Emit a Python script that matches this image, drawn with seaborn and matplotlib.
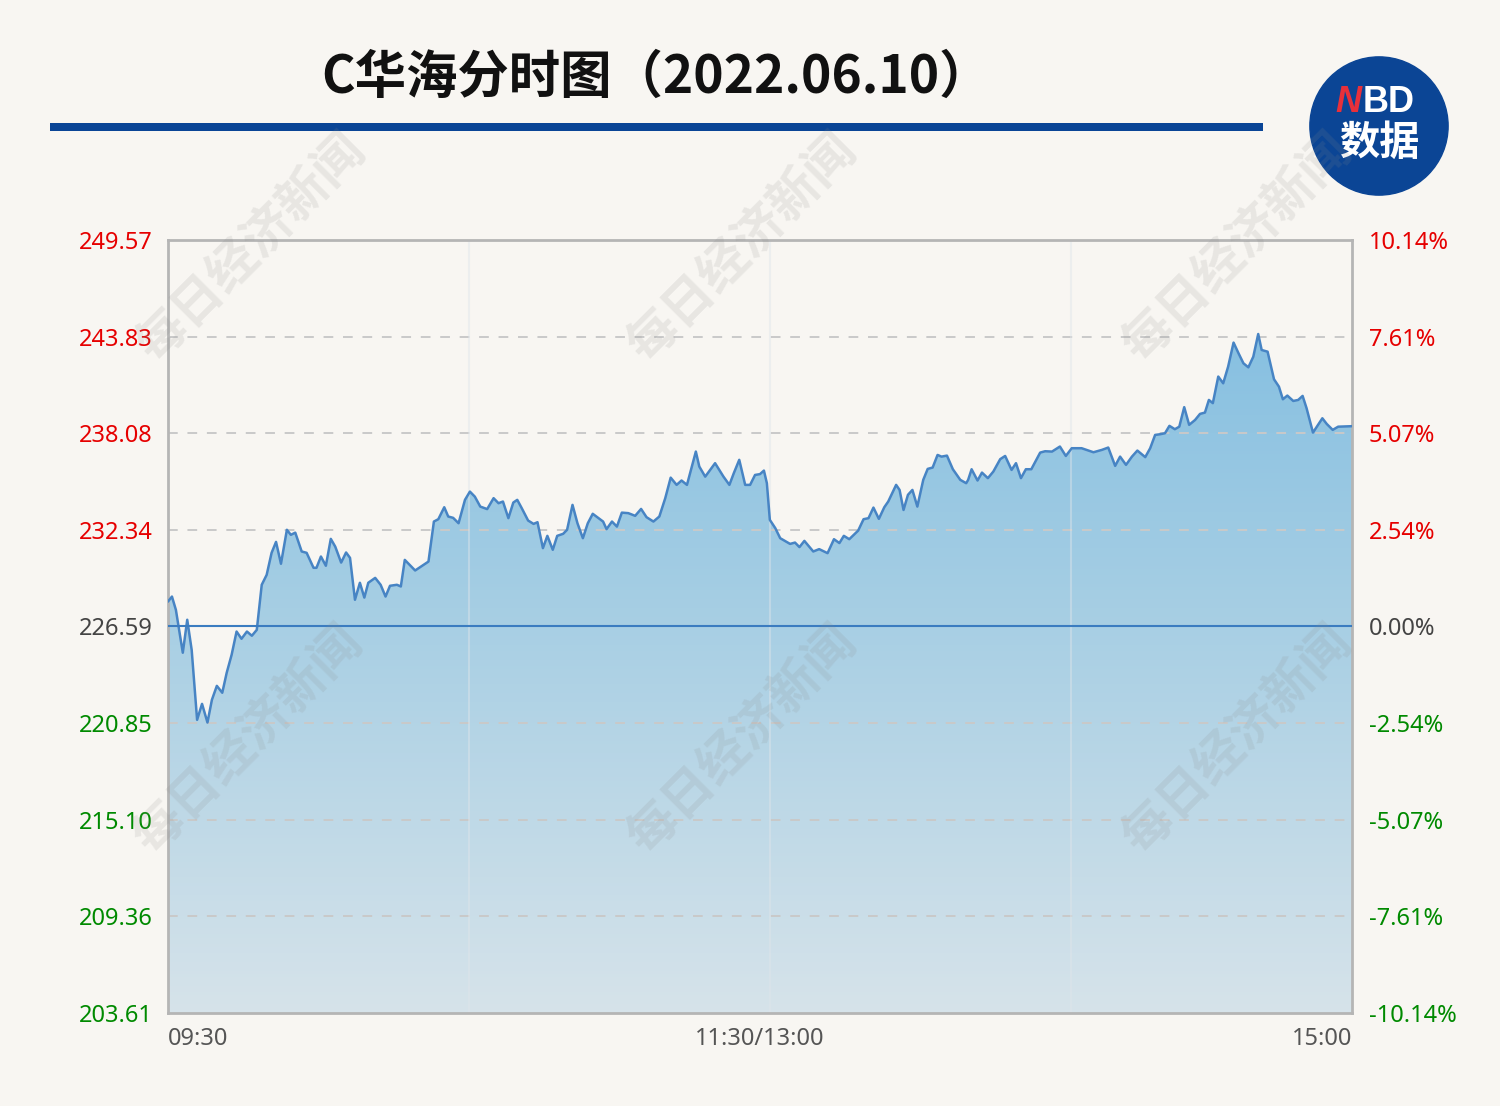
import numpy as np
import pandas as pd
import matplotlib
matplotlib.use("Agg")
import matplotlib.pyplot as plt
import seaborn as sns
from matplotlib.colors import LinearSegmentedColormap
from matplotlib.patches import Circle, Rectangle

# 分时数据: 交易分钟序号(0=09:30, 120=11:30/13:00, 240=15:00) 与价格
minutes = [
    0.0, 0.8, 1.6, 3.0, 3.9, 4.8, 5.9, 6.9, 8.0, 8.9,
    9.9, 11.0, 11.9, 12.9, 13.9, 14.9, 16.0, 17.0, 18.0, 19.0,
    20.0, 21.0, 21.9, 22.9, 24.1, 24.9, 25.8, 27.1, 28.1, 29.5,
    30.1, 31.0, 32.0, 33.0, 33.9, 35.1, 36.1, 36.9, 37.9, 38.9,
    39.8, 40.6, 42.0, 43.1, 44.1, 45.0, 46.4, 47.2, 48.0, 50.1,
    52.8, 53.9, 54.8, 56.0, 56.8, 57.8, 58.9, 60.2, 61.2, 62.2,
    63.3, 64.7, 66.0, 67.0, 67.9, 69.0, 70.0, 70.8, 71.7, 73.0,
    74.1, 74.9, 76.0, 76.9, 78.0, 78.9, 80.1, 80.9, 82.0, 83.0,
    84.1, 85.1, 86.1, 87.1, 88.2, 88.9, 90.0, 91.0, 92.0, 93.3,
    94.7, 95.9, 97.0, 98.4, 99.6, 100.8, 101.9, 103.1, 104.1, 105.2,
    106.2, 107.0, 107.7, 108.9, 110.9, 112.6, 113.8, 114.7, 115.8, 117.0,
    118.0, 119.0, 120.0, 120.8, 121.4, 122.0, 123.1, 124.1, 126.1, 127.1,
    128.0, 129.0, 130.8, 132.0, 133.7, 135.0, 136.1, 137.0, 138.1, 139.9,
    141.0, 142.0, 143.0, 144.1, 145.2, 146.0, 147.6, 148.3, 149.1, 150.0,
    150.9, 151.9, 153.1, 154.0, 155.0, 156.0, 156.8, 157.9, 159.1, 160.6,
    161.8, 162.2, 162.9, 164.1, 165.0, 166.2, 167.3, 168.7, 169.7, 171.0,
    171.9, 172.9, 173.9, 175.0, 176.8, 177.8, 179.2, 180.8, 182.0, 183.2,
    185.2, 187.6, 189.3, 190.6, 191.3, 192.0, 193.0, 194.2, 195.4, 196.5,
    198.1, 199.1, 200.1, 201.1, 202.1, 203.0, 204.1, 205.0, 206.0, 207.0,
    208.2, 209.2, 210.2, 211.0, 211.8, 212.9, 213.9, 214.9, 216.0, 217.0,
    218.0, 219.0, 220.0, 221.0, 221.7, 222.9, 224.2, 225.2, 226.0, 226.9,
    228.1, 229.1, 230.0, 230.8, 232.1, 233.0, 234.0, 234.9, 236.1, 237.2,
    240.0,
]
prices = [
    228.07, 228.37, 227.58, 225.03, 226.99, 225.20, 221.04, 221.99, 220.88, 222.23,
    223.06, 222.65, 223.84, 224.91, 226.29, 225.86, 226.29, 226.04, 226.39, 229.07,
    229.66, 230.97, 231.62, 230.32, 232.34, 232.04, 232.17, 231.05, 230.97, 230.08,
    230.08, 230.75, 230.20, 231.80, 231.34, 230.39, 230.99, 230.67, 228.18, 229.19,
    228.31, 229.19, 229.48, 229.07, 228.37, 229.01, 229.07, 228.97, 230.55, 229.92,
    230.45, 232.83, 232.97, 233.68, 233.13, 233.05, 232.73, 234.12, 234.61, 234.31,
    233.72, 233.57, 234.22, 233.92, 234.02, 233.03, 233.96, 234.12, 233.63, 232.89,
    232.69, 232.79, 231.25, 231.98, 231.15, 231.98, 232.10, 232.34, 233.82, 232.73,
    231.84, 232.73, 233.29, 233.07, 232.83, 232.38, 232.83, 232.53, 233.36, 233.33,
    233.17, 233.58, 233.09, 232.83, 233.13, 234.22, 235.44, 235.01, 235.27, 235.01,
    236.10, 236.99, 236.10, 235.50, 236.30, 235.50, 235.01, 235.71, 236.50, 235.01,
    235.01, 235.60, 235.65, 235.86, 235.11, 232.93, 232.44, 231.84, 231.50, 231.58,
    231.31, 231.68, 231.05, 231.19, 230.95, 231.78, 231.55, 231.98, 231.78, 232.29,
    232.97, 233.03, 233.66, 232.99, 233.68, 234.02, 235.01, 234.71, 233.52, 234.42,
    234.71, 233.72, 235.31, 235.96, 236.04, 236.79, 236.69, 236.75, 235.94, 235.31,
    235.11, 235.31, 235.94, 235.27, 235.74, 235.41, 235.80, 236.54, 236.73, 235.90,
    236.30, 235.41, 235.94, 235.94, 236.93, 237.01, 236.99, 237.29, 236.73, 237.19,
    237.19, 236.95, 237.09, 237.23, 236.69, 236.14, 236.69, 236.20, 236.69, 237.05,
    236.66, 237.19, 237.98, 238.02, 238.08, 238.52, 238.32, 238.47, 239.63, 238.58,
    238.87, 239.23, 239.31, 240.06, 239.87, 241.45, 241.05, 242.04, 243.47, 242.84,
    242.24, 242.00, 242.63, 243.98, 243.03, 242.93, 241.29, 240.85, 240.10, 240.32,
    240.00, 240.06, 240.30, 239.57, 238.12, 238.52, 238.97, 238.63, 238.28, 238.47,
    238.50,
]

prev_close = 226.59
price_ticks = [203.61, 209.36, 215.10, 220.85, 226.59, 232.34, 238.08, 243.83, 249.57]
pct_labels = ["-10.14%", "-7.61%", "-5.07%", "-2.54%", "0.00%",
              "2.54%", "5.07%", "7.61%", "10.14%"]
time_ticks = [0, 120, 240]
time_labels = ["09:30", "11:30/13:00", "15:00"]
split_minutes = [61, 122, 183]

sns.set_theme(style="white")
plt.rcParams['font.family'] = ['Noto Sans', 'Noto Sans CJK SC', 'DejaVu Sans']

bg = "#f8f6f2"
fig = plt.figure(figsize=(15, 11.06), dpi=100, facecolor=bg)
ax = fig.add_axes([0.112, 0.0841, 0.7893, 0.6989])
ax.set_facecolor(bg)

df = pd.DataFrame({"minute": minutes, "price": prices})
ymin, ymax = price_ticks[0], price_ticks[-1]

# 渐变填充
fill = ax.fill_between(df["minute"], df["price"], ymin, color="none", lw=0)
grad = np.linspace(0, 1, 256).reshape(-1, 1)
cmap = LinearSegmentedColormap.from_list("g", ["#d6e3ea", "#a8cfe4", "#7cbbe0"])
im = ax.imshow(grad, extent=[0, 240, ymin, ymax], origin="lower",
               aspect="auto", cmap=cmap, zorder=1)
im.set_clip_path(fill.get_paths()[0], transform=ax.transData)

# 网格线
for t in price_ticks[1:-1]:
    if t != prev_close:
        ax.axhline(t, color="#c9c9c9", ls=(0, (5, 5)), lw=1.4, zorder=2)
for m in split_minutes:
    ax.axvline(m, color="#dfe5ea", lw=1.5, alpha=0.45, zorder=2)

sns.lineplot(data=df, x="minute", y="price", color="#4784c4", linewidth=1.8,
             ax=ax, zorder=4)
ax.axhline(prev_close, color="#3b7cc0", lw=1.5, zorder=5)

ax.set_xlim(0, 240)
ax.set_ylim(ymin, ymax)
ax.set_xlabel("")
ax.set_ylabel("")
for s in ax.spines.values():
    s.set_color("#b5b5b5")
    s.set_linewidth(2)

def tick_color(v):
    if v > prev_close:
        return "#e60000"
    if v < prev_close:
        return "#008a00"
    return "#444444"

ax.set_yticks(price_ticks)
ax.set_yticklabels([f"{v:.2f}" for v in price_ticks], fontsize=17)
for lab, v in zip(ax.get_yticklabels(), price_ticks):
    lab.set_color(tick_color(v))
ax.tick_params(axis="y", length=0, pad=11)

ax.set_xticks(time_ticks)
ax.set_xticklabels(time_labels, fontsize=17, color="#555555")
ax.tick_params(axis="x", length=0, pad=10)
xl = ax.get_xticklabels()
xl[0].set_ha("left")
xl[0].set_x(-0.6)
xl[-1].set_ha("right")

ax2 = ax.twinx()
ax2.set_ylim(ymin, ymax)
ax2.set_yticks(price_ticks)
ax2.set_yticklabels(pct_labels, fontsize=17)
for lab, v in zip(ax2.get_yticklabels(), price_ticks):
    lab.set_color(tick_color(v))
ax2.tick_params(axis="y", length=0, pad=12)
for s in ax2.spines.values():
    s.set_visible(False)
ax2.grid(False)

# 标题与蓝色横线
fig.text(0.437, 0.930, "C华海分时图（2022.06.10）", ha="center", va="center",
         fontsize=37, fontweight="bold", color="#111111",
         family=['Noto Sans CJK SC', 'DejaVu Sans'])
fig.add_artist(Rectangle((50 / 1500, 0.8816), 1213 / 1500, 8 / 1106,
                         transform=fig.transFigure, color="#0a4596", lw=0))

# NBD 标志
axl = fig.add_axes([(1379 - 72) / 1500, (1106 - 126 - 72) / 1106, 144 / 1500, 144 / 1106])
axl.set_xlim(0, 1)
axl.set_ylim(0, 1)
axl.axis("off")
axl.add_patch(Circle((0.5, 0.5), 0.48, color="#0b4595"))
axl.text(0.20, 0.66, "N", color="#e8303a", fontsize=26, fontweight="bold",
         style="italic", ha="left", va="center", family=['Liberation Sans', 'DejaVu Sans'])
axl.text(0.385, 0.66, "BD", color="white", fontsize=26, fontweight="bold",
         ha="left", va="center", family=['Liberation Sans', 'DejaVu Sans'])
axl.text(0.5, 0.38, "数据", color="white", fontsize=29, fontweight="bold",
         ha="center", va="center", family=['Noto Sans CJK SC'])

# 水印
for cx, cy in [(251, 248), (742, 248), (1237, 248), (248, 740), (742, 740), (1237, 740)]:
    fig.text(cx / 1500, 1 - cy / 1106, "每日经济新闻", rotation=45, ha="center",
             va="center", rotation_mode="anchor", fontsize=36, fontweight="bold",
             color="#8a8a8a", alpha=0.15, family=['Noto Sans CJK SC'])

fig.savefig("out.png", dpi=100, facecolor=bg)
